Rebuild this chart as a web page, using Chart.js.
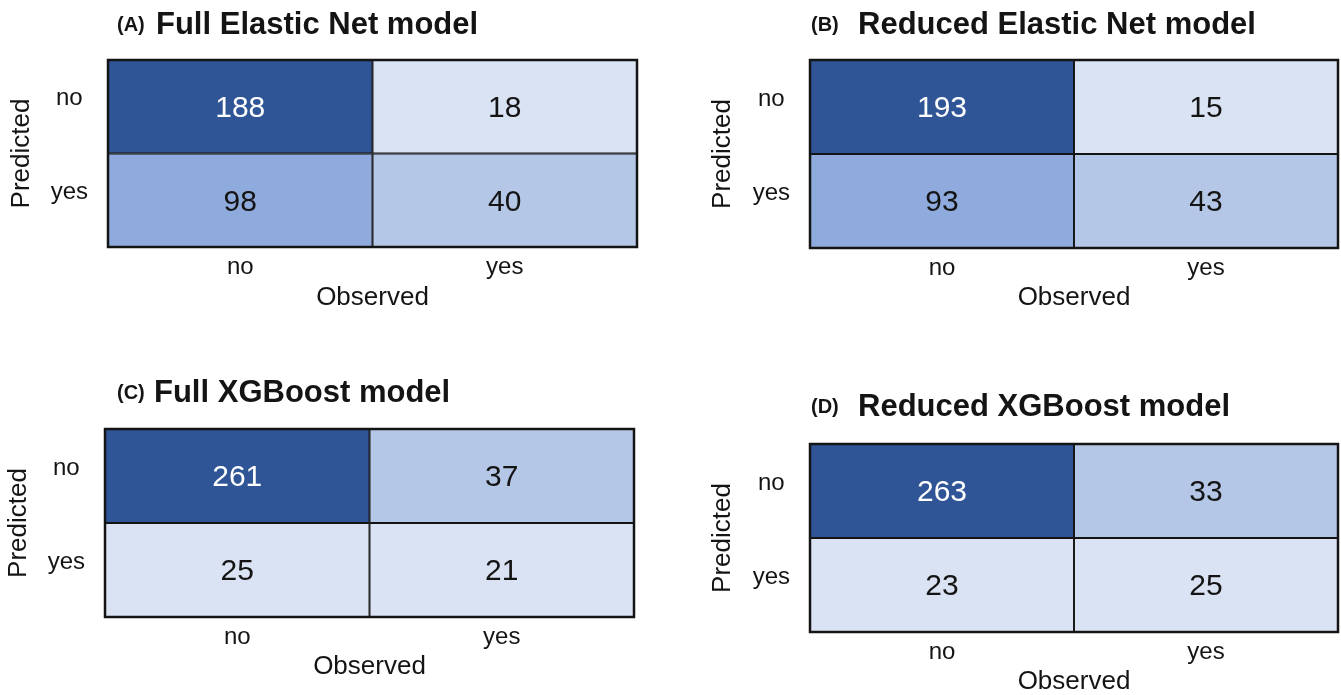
<!DOCTYPE html>
<html>
<head>
<meta charset="utf-8">
<title>Confusion matrices</title>
<script src="https://cdn.jsdelivr.net/npm/chart.js@4/dist/chart.umd.min.js"></script>
<style>
  html, body { margin: 0; padding: 0; background: #ffffff; }
  body { width: 1341px; height: 695px; position: relative; overflow: hidden; }
  .panel { position: absolute; }
  .panel canvas { display: block; }
</style>
</head>
<body>
<div class="panel" id="panelA"><canvas id="chartA"></canvas></div>
<div class="panel" id="panelB"><canvas id="chartB"></canvas></div>
<div class="panel" id="panelC"><canvas id="chartC"></canvas></div>
<div class="panel" id="panelD"><canvas id="chartD"></canvas></div>
<script>
// ---- data ----
const observedLabels = ['no', 'yes'];
const predictedLabels = ['no', 'yes'];
const panelTags = ['(A)', '(B)', '(C)', '(D)'];
const panelTitles = ['Full Elastic Net model', 'Reduced Elastic Net model', 'Full XGBoost model', 'Reduced XGBoost model'];
const xAxisTitle = 'Observed';
const yAxisTitle = 'Predicted';
// counts[predicted row][observed column]
const countsFullEN = [[188, 18], [98, 40]];
const countsReducedEN = [[193, 15], [93, 43]];
const countsFullXGB = [[261, 37], [25, 21]];
const countsReducedXGB = [[263, 33], [23, 25]];

// ---- styling ----
const FONT = "'Liberation Sans', Arial, Helvetica, sans-serif";
const INK = '#141414';
const TICK_SIZE = 24;
const AXIS_TITLE_SIZE = 26;
const CELL_SIZE = 30;

// sequential blue scale for cell shading
function cellColor(n) {
  if (n >= 150) return '#2f5597';
  if (n >= 60) return '#8faadc';
  if (n >= 30) return '#b4c7e7';
  return '#dae3f3';
}
function cellTextColor(n) {
  return n >= 150 ? '#ffffff' : INK;
}

// page geometry of each panel: canvas frame, plot area and text anchors
const layouts = [
  { id: 'A', frame: {x: 0,   y: 0,   w: 670, h: 340}, area: {left: 108, top: 60,  right: 637,  bottom: 247}, tagX: 117, titleX: 156, titleY: 25,  yTitleX: 22, xTitleY: 298 },
  { id: 'B', frame: {x: 670, y: 0,   w: 671, h: 340}, area: {left: 810, top: 60,  right: 1338, bottom: 248}, tagX: 811, titleX: 858, titleY: 25,  yTitleX: 723, xTitleY: 298 },
  { id: 'C', frame: {x: 0,   y: 345, w: 670, h: 350}, area: {left: 105, top: 429, right: 634,  bottom: 617}, tagX: 117, titleX: 154, titleY: 393, yTitleX: 19, xTitleY: 667 },
  { id: 'D', frame: {x: 670, y: 345, w: 671, h: 350}, area: {left: 810, top: 444, right: 1338, bottom: 632}, tagX: 811, titleX: 858, titleY: 407, yTitleX: 723, xTitleY: 682 }
];
const panelCounts = [countsFullEN, countsReducedEN, countsFullXGB, countsReducedXGB];

// panel heading: small bold tag followed by the bold model name
const headingPlugin = {
  id: 'heading',
  afterDraw(chart, args, opts) {
    const ctx = chart.ctx;
    ctx.save();
    ctx.fillStyle = INK;
    ctx.textBaseline = 'middle';
    ctx.textAlign = 'left';
    ctx.font = 'bold 20px ' + FONT;
    ctx.fillText(opts.tag, opts.tagX, opts.y);
    ctx.font = 'bold 31px ' + FONT;
    ctx.fillText(opts.text, opts.textX, opts.y);
    ctx.restore();
  }
};

// count printed in the middle of every cell, plus the outer frame
const cellTextPlugin = {
  id: 'cellText',
  afterDatasetsDraw(chart) {
    const ctx = chart.ctx;
    ctx.save();
    ctx.font = CELL_SIZE + 'px ' + FONT;
    ctx.textAlign = 'center';
    ctx.textBaseline = 'middle';
    chart.data.datasets.forEach((ds, di) => {
      chart.getDatasetMeta(di).data.forEach((bar, i) => {
        const n = ds.counts[i];
        const c = bar.getCenterPoint();
        ctx.fillStyle = cellTextColor(n);
        ctx.fillText(String(n), c.x, c.y + 2);
      });
    });
    const a = chart.chartArea;
    ctx.strokeStyle = INK;
    ctx.lineWidth = 2.5;
    ctx.strokeRect(a.left, a.top, a.right - a.left, a.bottom - a.top);
    ctx.restore();
  }
};

function buildChart(L, counts, tag, title) {
  const holder = document.getElementById('panel' + L.id);
  holder.style.left = L.frame.x + 'px';
  holder.style.top = L.frame.y + 'px';
  holder.style.width = L.frame.w + 'px';
  holder.style.height = L.frame.h + 'px';

  const nRows = predictedLabels.length;
  const axisLine = AXIS_TITLE_SIZE * 1.2;
  const xAxisHeight = L.xTitleY + axisLine / 2 - L.area.bottom;

  // one dataset per predicted row; row 0 sits at the top of the grid
  const datasets = predictedLabels.map((p, r) => {
    const lo = nRows - 1 - r;
    return {
      label: 'Predicted ' + p,
      counts: counts[r],
      data: observedLabels.map(() => [lo, lo + 1]),
      backgroundColor: counts[r].map(cellColor),
      borderColor: INK,
      borderWidth: 1.3,
      borderSkipped: false,
      grouped: false,
      barPercentage: 1,
      categoryPercentage: 1
    };
  });

  const rowCenters = predictedLabels.map((p, r) => nRows - 1 - r + 0.5);

  return new Chart(document.getElementById('chart' + L.id), {
    type: 'bar',
    data: { labels: observedLabels, datasets },
    options: {
      responsive: true,
      maintainAspectRatio: false,
      animation: false,
      events: [],
      layout: {
        padding: {
          left: 0,
          top: L.area.top - L.frame.y,
          right: L.frame.x + L.frame.w - L.area.right,
          bottom: L.frame.y + L.frame.h - (L.area.bottom + xAxisHeight)
        }
      },
      plugins: {
        legend: { display: false },
        tooltip: { enabled: false },
        heading: { tag, text: title, tagX: L.tagX - L.frame.x, textX: L.titleX - L.frame.x, y: L.titleY - L.frame.y }
      },
      scales: {
        x: {
          type: 'category',
          offset: true,
          grid: { display: false, drawTicks: false },
          border: { display: false },
          ticks: { color: INK, font: { family: FONT, size: TICK_SIZE }, padding: 6, maxRotation: 0 },
          title: { display: true, text: xAxisTitle, color: INK, font: { family: FONT, size: AXIS_TITLE_SIZE }, padding: 0 },
          afterFit(scale) { scale.height = xAxisHeight; }
        },
        y: {
          type: 'linear',
          min: 0,
          max: nRows,
          grid: { display: false, drawTicks: false },
          border: { display: false },
          afterBuildTicks(scale) { scale.ticks = rowCenters.map(v => ({ value: v })); },
          ticks: {
            color: INK,
            font: { family: FONT, size: TICK_SIZE },
            padding: 20,
            crossAlign: 'center',
            labelOffset: -8,
            callback(v) {
              const r = nRows - 1 - Math.floor(v);
              return predictedLabels[r];
            }
          },
          title: { display: true, text: yAxisTitle, color: INK, font: { family: FONT, size: AXIS_TITLE_SIZE }, padding: { top: L.yTitleX - L.frame.x - axisLine / 2, bottom: 0 } },
          afterFit(scale) { scale.width = L.area.left - L.frame.x; }
        }
      }
    },
    plugins: [headingPlugin, cellTextPlugin]
  });
}

layouts.forEach((L, i) => buildChart(L, panelCounts[i], panelTags[i], panelTitles[i]));
</script>
</body>
</html>
